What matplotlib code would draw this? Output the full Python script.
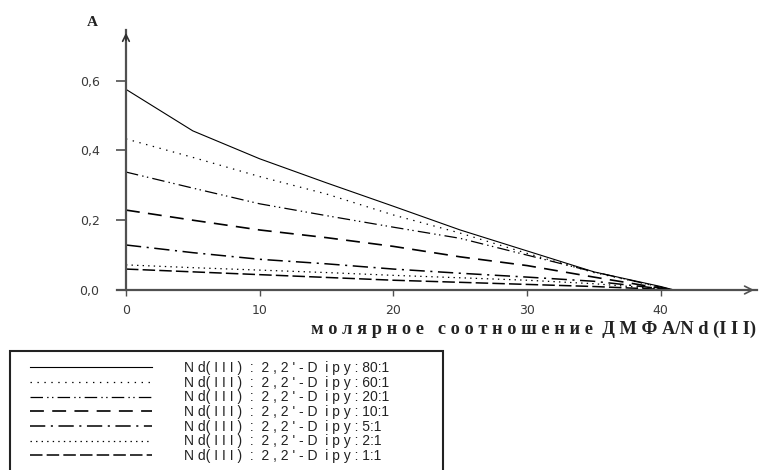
import matplotlib
matplotlib.use("Agg")
import matplotlib.pyplot as plt
from matplotlib.patches import Rectangle
from matplotlib.ticker import FuncFormatter

plt.rcParams['lines.scale_dashes'] = False

x = [0, 5, 10, 15, 20, 25, 30, 35, 40, 41]
s80 = [0.575, 0.456, 0.376, 0.307, 0.240, 0.172, 0.112, 0.052, 0.010, 0.0]
s60 = [0.433, 0.380, 0.325, 0.275, 0.215, 0.163, 0.105, 0.050, 0.008, 0.0]
s20 = [0.338, 0.292, 0.247, 0.213, 0.180, 0.148, 0.100, 0.052, 0.008, 0.0]
s10 = [0.229, 0.200, 0.172, 0.150, 0.125, 0.095, 0.070, 0.037, 0.005, 0.0]
s5 = [0.129, 0.107, 0.088, 0.075, 0.060, 0.048, 0.037, 0.025, 0.004, 0.0]
s2 = [0.072, 0.064, 0.057, 0.050, 0.042, 0.035, 0.028, 0.018, 0.003, 0.0]
s1 = [0.060, 0.052, 0.044, 0.036, 0.028, 0.022, 0.016, 0.010, 0.002, 0.0]

series = [s80, s60, s20, s10, s5, s2, s1]
ratios = ["80:1", "60:1", "20:1", "10:1", "5:1", "2:1", "1:1"]
xticks = [0, 10, 20, 30, 40]
yticks = [0.0, 0.2, 0.4, 0.6]

styles = [
    dict(linestyle='-', lw=0.8),
    dict(linestyle=(0, (1, 4)), lw=0.9),
    dict(linestyle=(0, (9, 3, 1, 2.5, 1, 3)), lw=0.9),
    dict(linestyle=(0, (10, 6)), lw=1.2),
    dict(linestyle=(0, (11, 4, 1.5, 4)), lw=1.1),
    dict(linestyle=(0, (1, 3)), lw=0.9),
    dict(linestyle=(0, (9, 3)), lw=1.1),
]

fig = plt.figure(figsize=(7.6, 4.7), dpi=100)
ax = fig.add_axes([117 / 760, 1 - 290 / 470, (757 - 117) / 760, (290 - 30) / 470])
ax.set_xlim(-0.67, 47.2)
ax.set_ylim(0, 0.745)

handles = []
for ys, st, r in zip(series, styles, ratios):
    h, = ax.plot(x, ys, color='black', clip_on=False, **st)
    handles.append(h)

for sp in ['top', 'right']:
    ax.spines[sp].set_visible(False)
ax.spines['left'].set_position(('data', 0))
for sp in ['left', 'bottom']:
    ax.spines[sp].set_color('#505050')
    ax.spines[sp].set_linewidth(1.6)

# arrowheads
ax.annotate('', xy=(1.0, 0), xycoords=('axes fraction', 'data'),
            xytext=(0.97, 0), textcoords=('axes fraction', 'data'),
            arrowprops=dict(arrowstyle='->', color='#505050', lw=1.2, mutation_scale=14))
ax.annotate('', xy=(0, 1.0), xycoords=('data', 'axes fraction'),
            xytext=(0, 0.95), textcoords=('data', 'axes fraction'),
            arrowprops=dict(arrowstyle='->', color='#303030', lw=1.2, mutation_scale=12))

ax.set_xticks(xticks)
ax.set_yticks(yticks)
ax.yaxis.set_major_formatter(FuncFormatter(lambda v, p: f"{v:.1f}".replace('.', ',')))
ax.tick_params(axis='y', direction='out', length=7, width=1.2, color='#505050',
               labelsize=9, labelcolor='#3a3a3a', pad=12)
ax.tick_params(axis='x', direction='out', length=4, width=1.0, color='#505050',
               labelsize=9, labelcolor='#3a3a3a', pad=6)

fig.text(92 / 760, 1 - 22 / 470, "A", fontsize=11, fontweight='bold',
         family='Liberation Serif', ha='center', va='center', color='#222222')

fig.text(756 / 760, 1 - 329 / 470,
         "м о л я р н о е   с о о т н о ш е н и е  Д М Ф А/N d (I I I)",
         fontsize=13.2, family='Liberation Serif', fontweight='bold',
         ha='right', va='center', color='#222222')

labels = ["N d( I I I )  :  2 , 2 ' - D  i p y : " + r for r in ratios]
leg = fig.legend(handles, labels, loc='upper left',
                 bbox_to_anchor=(30 / 760, 1 - 361 / 470),
                 frameon=False, handlelength=8.8, handletextpad=2.3,
                 labelspacing=0.05, borderpad=0, borderaxespad=0,
                 prop=dict(family='Liberation Sans', size=10))
for t in leg.get_texts():
    t.set_color('#222222')

fig.patches.append(Rectangle((10 / 760, -0.05), (443 - 10) / 760, 0.05 + (1 - 351 / 470),
                             transform=fig.transFigure, fill=False,
                             edgecolor='#222222', lw=1.5))

fig.savefig("out.png", dpi=100)
